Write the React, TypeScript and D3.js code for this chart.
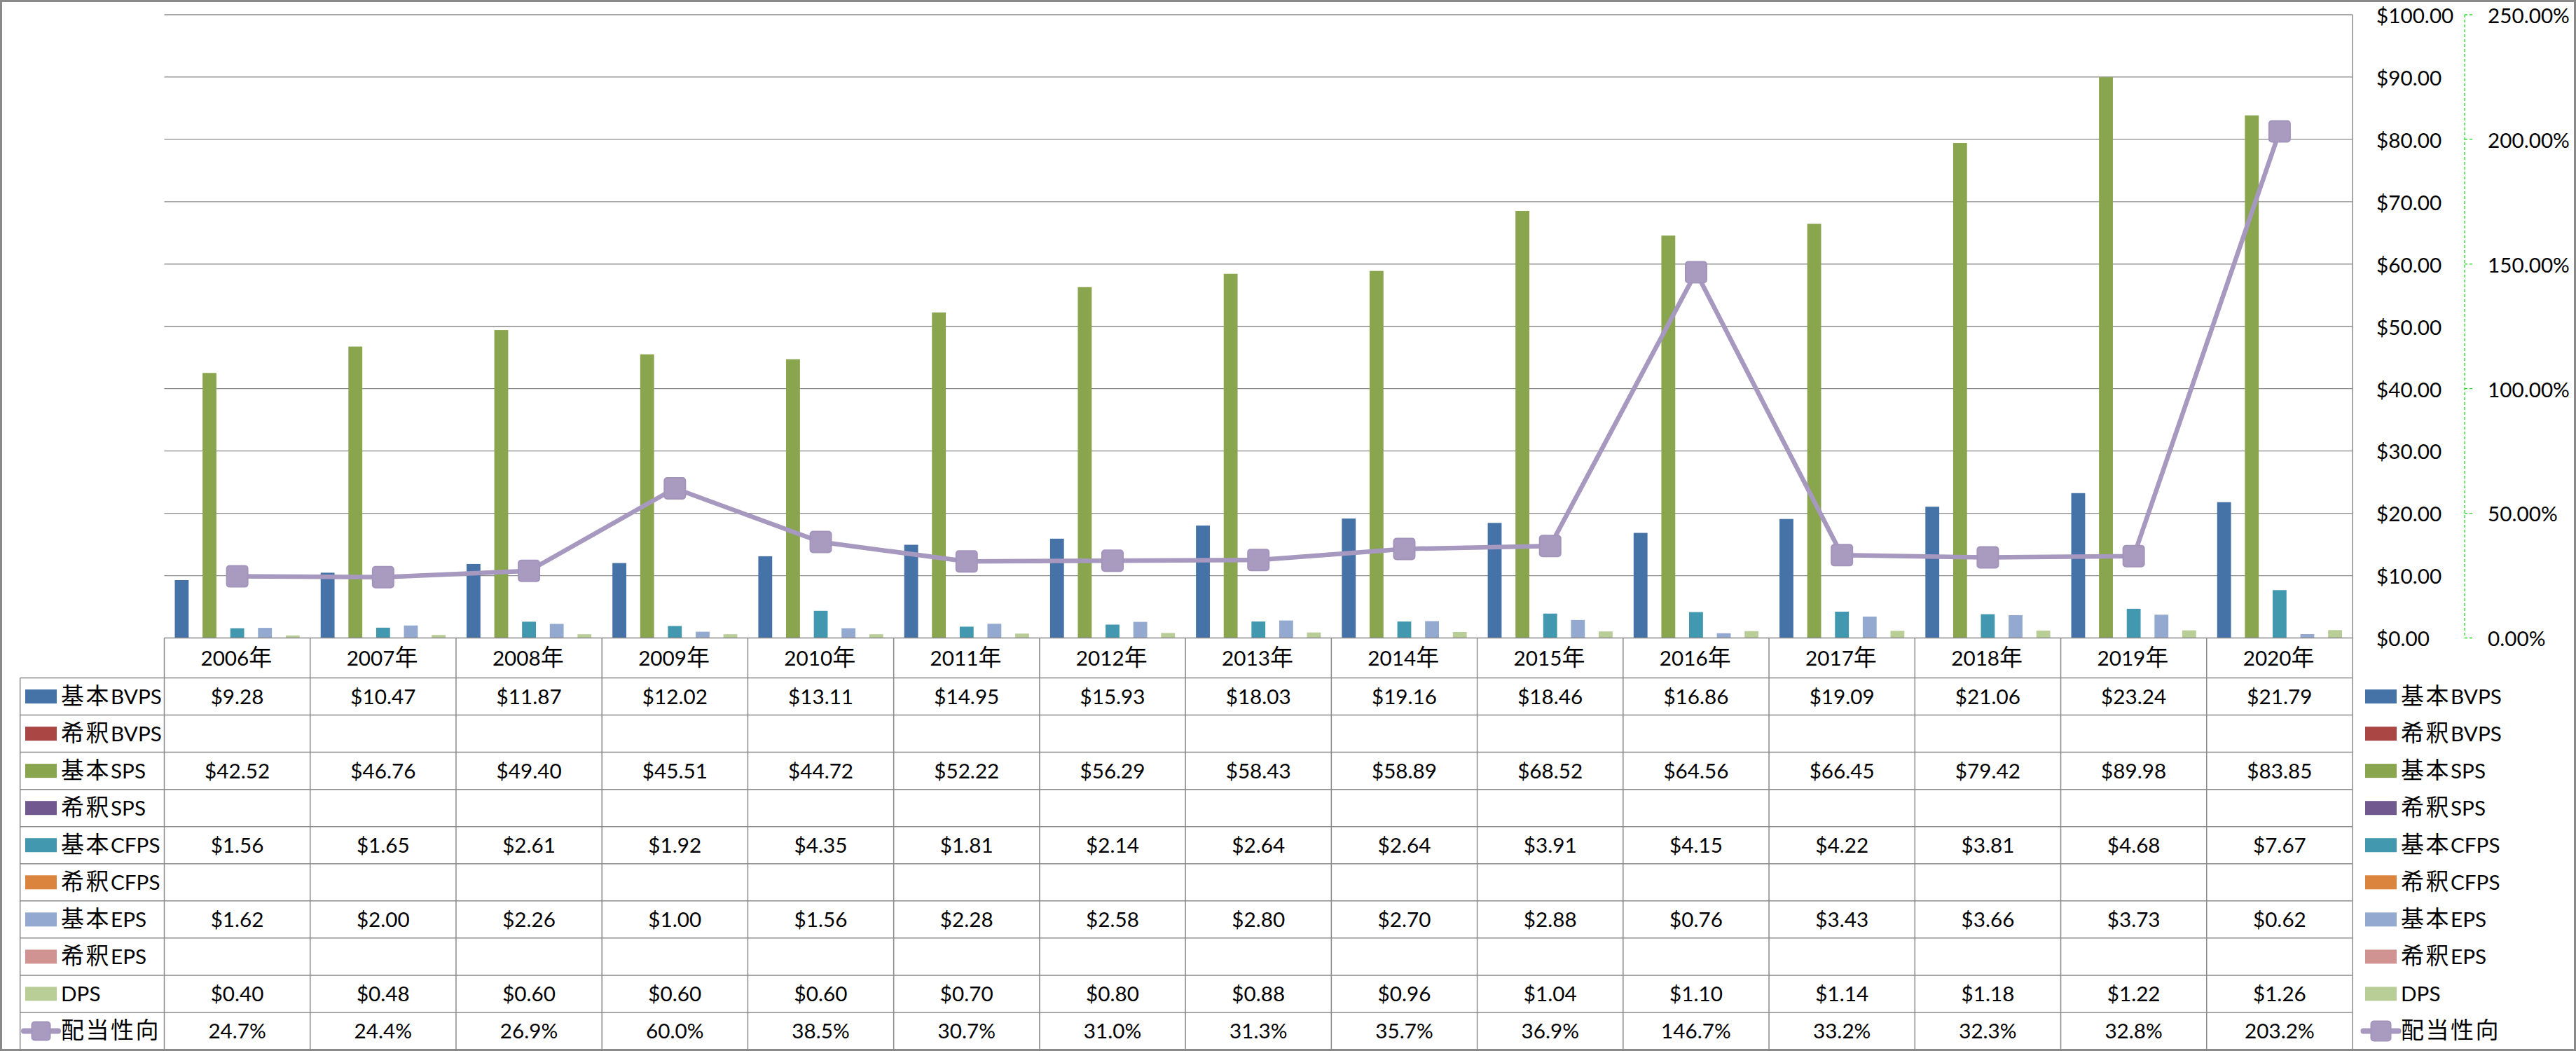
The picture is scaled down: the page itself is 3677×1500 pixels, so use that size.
import React from "react";
import * as d3 from "d3";

const years = ["2006年","2007年","2008年","2009年","2010年","2011年","2012年","2013年","2014年","2015年","2016年","2017年","2018年","2019年","2020年"];
const seriesNames = ["基本BVPS","希釈BVPS","基本SPS","希釈SPS","基本CFPS","希釈CFPS","基本EPS","希釈EPS","DPS"];
const seriesColors = ["#4572A7","#AA4643","#89A54E","#71588F","#4198AF","#DB843D","#93A9CF","#D19392","#B9CD96"];
const basicBVPS = [9.28,10.47,11.87,12.02,13.11,14.95,15.93,18.03,19.16,18.46,16.86,19.09,21.06,23.24,21.79];
const dilutedBVPS: (number | null)[] = years.map(() => null);
const basicSPS = [42.52,46.76,49.40,45.51,44.72,52.22,56.29,58.43,58.89,68.52,64.56,66.45,79.42,89.98,83.85];
const dilutedSPS: (number | null)[] = years.map(() => null);
const basicCFPS = [1.56,1.65,2.61,1.92,4.35,1.81,2.14,2.64,2.64,3.91,4.15,4.22,3.81,4.68,7.67];
const dilutedCFPS: (number | null)[] = years.map(() => null);
const basicEPS = [1.62,2.00,2.26,1.00,1.56,2.28,2.58,2.80,2.70,2.88,0.76,3.43,3.66,3.73,0.62];
const dilutedEPS: (number | null)[] = years.map(() => null);
const dps = [0.40,0.48,0.60,0.60,0.60,0.70,0.80,0.88,0.96,1.04,1.10,1.14,1.18,1.22,1.26];
const lineName = "配当性向";
const payoutRatio = [24.7,24.4,26.9,60.0,38.5,30.7,31.0,31.3,35.7,36.9,146.7,33.2,32.3,32.8,203.2];
const leftTicks = [0,10,20,30,40,50,60,70,80,90,100];
const rightTicks = [0,0.5,1,1.5,2,2.5];

const seriesValues: (number | null)[][] = [basicBVPS, dilutedBVPS, basicSPS, dilutedSPS, basicCFPS, dilutedCFPS, basicEPS, dilutedEPS, dps];

const W = 3677, H = 1500;
const plotLeft = 234.5, plotRight = 3358, plotTop = 21, plotBottom = 910.5;
const tableLeft = 28.7, headerBottom = 967.5, tableBottom = 1498;
const rowH = (tableBottom - headerBottom) / 10;
const GRAY = "#8a8a8a";
const LINE_COLOR = "#A698BF";
const MARKER_FILL = "#A99BC0";
const MARKER_STROKE = "#A294BA";
const LATIN_FS = 29.7;
const CJK_FS = 33;

const CJK_RE = /[\u3000-\u9fff\uff00-\uffef]/;

function splitRuns(s: string): { cjk: boolean; t: string }[] {
  const runs: { cjk: boolean; t: string }[] = [];
  for (const ch of s) {
    const c = CJK_RE.test(ch);
    if (runs.length && runs[runs.length - 1].cjk === c) runs[runs.length - 1].t += ch;
    else runs.push({ cjk: c, t: ch });
  }
  return runs;
}

function T(props: { x: number; y: number; anchor?: string; text: string }) {
  const runs = splitRuns(props.text);
  return (
    <text x={props.x} y={props.y + 10.8} textAnchor={props.anchor || "start"} fill="#000">
      {runs.map((r, i) =>
        r.cjk ? (
          <tspan key={i} fontFamily="'Noto Sans CJK JP', sans-serif" fontSize={CJK_FS} letterSpacing={2.5}>{r.t}</tspan>
        ) : (
          <tspan key={i} fontFamily="Lato, 'Liberation Sans', sans-serif" fontSize={LATIN_FS}>{r.t}</tspan>
        )
      )}
    </text>
  );
}

export default function App() {
  const x = d3.scaleBand<string>().domain(years).range([plotLeft, plotRight]).padding(0);
  const colW = x.bandwidth();
  const inner = d3.scaleBand<string>().domain(seriesNames).range([15, colW - 15]).padding(0);
  const y = d3.scaleLinear().domain([0, 100]).range([plotBottom, plotTop]);
  const y2 = d3.scaleLinear().domain([0, 2.5]).range([plotBottom, plotTop]);

  const line = d3.line<number>()
    .x((_, i) => (x(years[i]) as number) + colW / 2)
    .y((d) => y2(d / 100));

  const rowCenter = (r: number) => headerBottom + rowH * (r + 0.5);
  const fmtMoney = (v: number) => "$" + v.toFixed(2);

  const legendSymbol = (i: number, x0: number, cy: number, lineLen: number, mSize: number) => {
    if (i < seriesNames.length) {
      return <rect x={x0} y={cy - 10} width={45} height={20} fill={seriesColors[i]} />;
    }
    const cx = x0 + 22.5;
    return (
      <g>
        <line x1={cx - lineLen / 2} x2={cx + lineLen / 2} y1={cy} y2={cy} stroke={LINE_COLOR} strokeWidth={8} strokeLinecap="round" />
        <rect x={cx - mSize / 2} y={cy - mSize / 2} width={mSize} height={mSize} rx={4} fill={MARKER_FILL} stroke={MARKER_STROKE} strokeWidth={2} />
      </g>
    );
  };

  const allNames = [...seriesNames, lineName];

  return (
    <svg width={W} height={H} style={{ position: "absolute", left: 0, top: 0, background: "#fff" }}>
      <rect x={0} y={0} width={W} height={H} fill="#fff" />
      {/* gridlines */}
      {leftTicks.filter((t) => t > 0).map((t) => (
        <line key={"g" + t} x1={plotLeft} x2={plotRight} y1={y(t)} y2={y(t)} stroke={GRAY} strokeWidth={1.3} />
      ))}
      {/* bars */}
      {seriesValues.map((vals, si) =>
        vals.map((v, ci) =>
          v == null ? null : (
            <rect key={`b${si}-${ci}`}
              x={(x(years[ci]) as number) + (inner(seriesNames[si]) as number)}
              y={y(v)} width={inner.bandwidth()} height={y(0) - y(v)}
              fill={seriesColors[si]} />
          )
        )
      )}
      {/* category axis line */}
      <line x1={plotLeft} x2={plotRight} y1={plotBottom} y2={plotBottom} stroke={GRAY} strokeWidth={1.5} />
      {/* value axis line at right */}
      <line x1={plotRight} x2={plotRight} y1={plotTop} y2={tableBottom} stroke={GRAY} strokeWidth={1.5} />
      {/* line series */}
      <path d={line(payoutRatio) || ""} fill="none" stroke={LINE_COLOR} strokeWidth={6.5} strokeLinejoin="round" />
      {payoutRatio.map((v, i) => (
        <rect key={"m" + i} x={(x(years[i]) as number) + colW / 2 - 15} y={y2(v / 100) - 15}
          width={30} height={30} rx={4} fill={MARKER_FILL} stroke={MARKER_STROKE} strokeWidth={2} />
      ))}
      {/* table grid */}
      {years.map((yr) => (
        <line key={"v" + yr} x1={x(yr) as number} x2={x(yr) as number} y1={plotBottom} y2={tableBottom} stroke={GRAY} strokeWidth={1.5} />
      ))}
      <line x1={tableLeft} x2={tableLeft} y1={headerBottom} y2={tableBottom} stroke={GRAY} strokeWidth={1.5} />
      {d3.range(0, 11).map((r) => (
        <line key={"h" + r} x1={tableLeft} x2={plotRight} y1={headerBottom + r * rowH} y2={headerBottom + r * rowH} stroke={GRAY} strokeWidth={1.5} />
      ))}
      {/* category labels */}
      {years.map((yr) => (
        <T key={"c" + yr} x={(x(yr) as number) + colW / 2} y={(plotBottom + headerBottom) / 2} anchor="middle" text={yr} />
      ))}
      {/* table legend keys and names */}
      {allNames.map((n, i) => (
        <g key={"tl" + i}>
          {legendSymbol(i, 36, rowCenter(i), 49, 26)}
          <T x={87} y={rowCenter(i)} text={n} />
        </g>
      ))}
      {/* table values */}
      {seriesValues.map((vals, si) =>
        vals.map((v, ci) =>
          v == null ? null : (
            <T key={`t${si}-${ci}`} x={(x(years[ci]) as number) + colW / 2} y={rowCenter(si)} anchor="middle" text={fmtMoney(v)} />
          )
        )
      )}
      {payoutRatio.map((v, ci) => (
        <T key={"tp" + ci} x={(x(years[ci]) as number) + colW / 2} y={rowCenter(9)} anchor="middle" text={v.toFixed(1) + "%"} />
      ))}
      {/* right legend */}
      {allNames.map((n, i) => (
        <g key={"rl" + i}>
          {legendSymbol(i, 3376, rowCenter(i), 50, 28)}
          <T x={3427} y={rowCenter(i)} text={n} />
        </g>
      ))}
      {/* primary axis labels */}
      {leftTicks.map((t) => (
        <T key={"lt" + t} x={3392} y={y(t) + 1} text={fmtMoney(t)} />
      ))}
      {/* secondary axis */}
      <line x1={3518} x2={3518} y1={plotTop} y2={plotBottom} stroke="#22dd22" strokeWidth={1.3} strokeDasharray="4,3" />
      {rightTicks.map((t) => (
        <g key={"rt" + t}>
          <line x1={3518} x2={3529} y1={y2(t)} y2={y2(t)} stroke="#22dd22" strokeWidth={1.3} strokeDasharray="4,3" />
          <T x={3551} y={y2(t) + 1} text={(t * 100).toFixed(2) + "%"} />
        </g>
      ))}
      {/* outer border */}
      <rect x={1.5} y={1.5} width={W - 3} height={H - 3} fill="none" stroke={GRAY} strokeWidth={3} />
    </svg>
  );
}
